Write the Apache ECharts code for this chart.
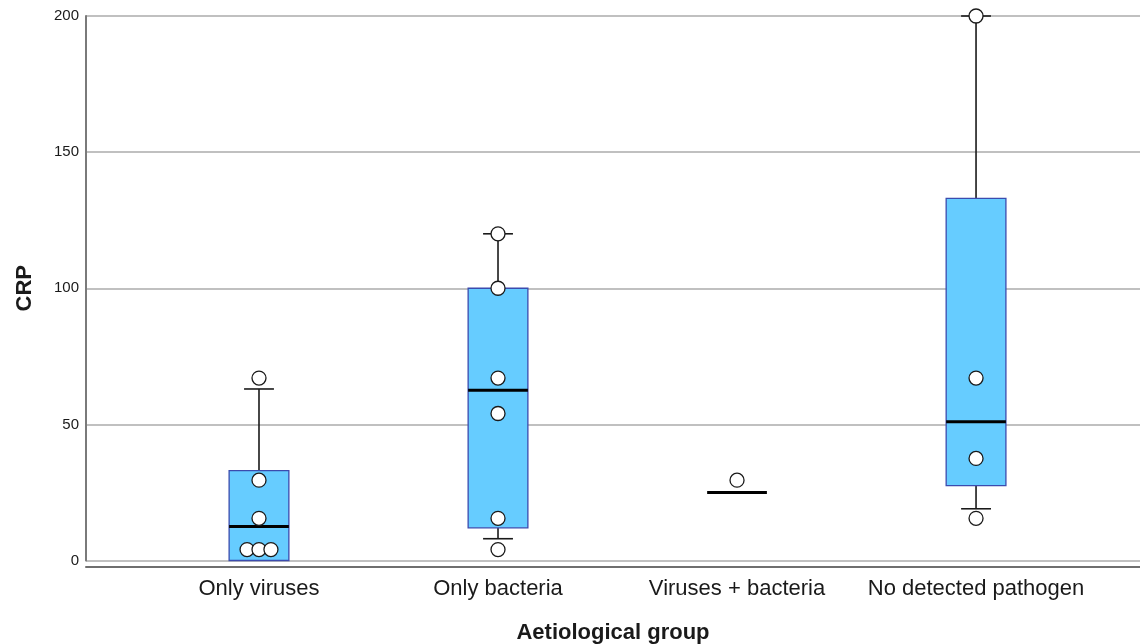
<!DOCTYPE html>
<html>
<head>
<meta charset="utf-8">
<script src="https://cdn.jsdelivr.net/npm/echarts@6/dist/echarts.min.js"></script>
<style>html,body{margin:0;padding:0;background:#fff}#c{width:1140px;height:644px}</style>
</head>
<body>
<div id="c"></div>
<script>
const categories = ['Only viruses', 'Only bacteria', 'Viruses + bacteria', 'No detected pathogen'];
const boxMin    = [0, 8, 25, 19];
const boxQ1     = [0, 12, 25, 27.5];
const boxMedian = [12.5, 62.5, 25, 51];
const boxQ3     = [33, 100, 25, 133];
const boxMax    = [63, 120, 25, 200];
const pointX = [-0.05, 0, 0.05, 0, 0, 0, 1, 1, 1, 1, 1, 1, 2, 3, 3, 3, 3];
const pointY = [4, 4, 4, 15.5, 29.5, 67, 4, 15.5, 54, 67, 100, 120, 29.5, 15.5, 37.5, 67, 200];
const yTicks = [0, 50, 100, 150, 200];

const boxData = categories.map((c, i) => [i, boxMin[i], boxQ1[i], boxMedian[i], boxQ3[i], boxMax[i]]);
const pointData = pointX.map((x, i) => [x, pointY[i]]);
const BOX_W = 0.25, CAP_W = 0.125;
const FONT = 'Arial, "Liberation Sans", sans-serif';

function renderBox(params, api) {
  const i = api.value(0);
  const mn = api.value(1), q1 = api.value(2), md = api.value(3), q3 = api.value(4), mx = api.value(5);
  const children = [];
  const L = api.coord([i - BOX_W / 2, 0])[0], R = api.coord([i + BOX_W / 2, 0])[0];
  const cL = api.coord([i - CAP_W / 2, 0])[0], cR = api.coord([i + CAP_W / 2, 0])[0];
  const cx = api.coord([i, 0])[0];
  const y = v => api.coord([i, v])[1];
  const wStyle = { stroke: '#1a1a1a', lineWidth: 1.6 };
  if (mx > q3) {
    children.push({ type: 'line', shape: { x1: cx, y1: y(q3), x2: cx, y2: y(mx) }, style: wStyle });
    children.push({ type: 'line', shape: { x1: cL, y1: y(mx), x2: cR, y2: y(mx) }, style: wStyle });
  }
  if (mn < q1) {
    children.push({ type: 'line', shape: { x1: cx, y1: y(q1), x2: cx, y2: y(mn) }, style: wStyle });
    children.push({ type: 'line', shape: { x1: cL, y1: y(mn), x2: cR, y2: y(mn) }, style: wStyle });
  }
  if (q3 > q1) {
    children.push({ type: 'rect', shape: { x: L, y: y(q3), width: R - L, height: y(q1) - y(q3) },
      style: { fill: '#66CCFF', stroke: '#3B4BAE', lineWidth: 1.3 } });
  }
  children.push({ type: 'line', shape: { x1: L, y1: y(md), x2: R, y2: y(md) }, style: { stroke: '#000', lineWidth: 3 } });
  return { type: 'group', children };
}

const chart = echarts.init(document.getElementById('c'));
chart.setOption({
  animation: false,
  backgroundColor: '#fff',
  grid: { left: 86, right: 0, top: 16, bottom: 83.5, containLabel: false, outerBoundsMode: 'none' },
  xAxis: {
    type: 'value',
    min: -0.7238, max: 3.686,
    offset: 6,
    splitLine: { show: false },
    axisTick: { show: false },
    axisLine: { show: true, onZero: false, lineStyle: { color: '#6e6e6e', width: 2 } },
    axisLabel: {
      customValues: [0, 1, 2, 3],
      formatter: v => categories[Math.round(v)],
      fontSize: 22, color: '#1a1a1a', fontFamily: FONT, margin: 11
    },
    name: 'Aetiological group',
    nameLocation: 'middle',
    nameGap: 55,
    nameTextStyle: { fontSize: 22, fontWeight: 'bold', color: '#1a1a1a', fontFamily: FONT }
  },
  yAxis: {
    type: 'value',
    min: 0, max: 200, interval: 50,
    axisTick: { show: false },
    axisLine: { show: true, onZero: false, lineStyle: { color: '#7a7a7a', width: 2 } },
    axisLabel: { fontSize: 15, color: '#1a1a1a', fontFamily: FONT, margin: 7 },
    splitLine: { show: true, lineStyle: { color: '#ababab', width: 1.5 } },
    name: 'CRP',
    nameLocation: 'middle',
    nameGap: 50,
    nameTextStyle: { fontSize: 22, fontWeight: 'bold', color: '#1a1a1a', fontFamily: FONT }
  },
  series: [
    {
      type: 'custom',
      renderItem: renderBox,
      data: boxData,
      encode: { x: 0, y: [1, 2, 3, 4, 5] },
      z: 2
    },
    {
      type: 'scatter',
      data: pointData,
      symbol: 'circle',
      symbolSize: 14,
      itemStyle: { color: '#fff', borderColor: '#1a1a1a', borderWidth: 1.3, opacity: 1 },
      z: 3
    }
  ]
});
</script>
</body>
</html>
